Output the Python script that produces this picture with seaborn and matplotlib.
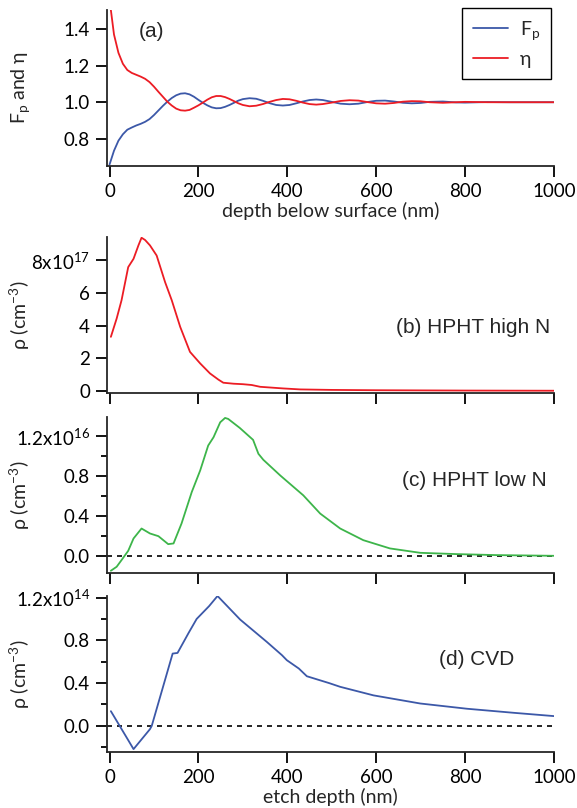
import matplotlib
matplotlib.use("Agg")
import matplotlib.pyplot as plt
import seaborn as sns

# (a) Fp and eta vs depth below surface
depth_a = [0, 10, 20, 30, 40, 50, 60, 70, 80, 90, 100, 110, 120, 130, 140, 150, 160, 170,
           180, 190, 200, 210, 220, 230, 240, 250, 260, 270, 280, 290, 300, 315, 330, 345,
           360, 375, 390, 405, 420, 435, 450, 465, 480, 500, 520, 540, 560, 580, 600, 620,
           640, 660, 680, 700, 720, 750, 780, 800, 850, 900, 1000]
fp = [0.66, 0.735, 0.79, 0.825, 0.85, 0.862, 0.873, 0.882, 0.893, 0.908, 0.93, 0.955, 0.98,
      1.003, 1.023, 1.038, 1.047, 1.049, 1.043, 1.03, 1.013, 0.997, 0.983, 0.972, 0.967,
      0.968, 0.975, 0.985, 0.997, 1.009, 1.017, 1.022, 1.019, 1.008, 0.995, 0.985, 0.982,
      0.985, 0.994, 1.004, 1.012, 1.015, 1.012, 1.002, 0.992, 0.989, 0.992, 1.001, 1.008,
      1.009, 1.004, 0.997, 0.994, 0.996, 1.002, 1.004, 0.999, 0.998, 1.001, 1.0, 1.0]
eta = [1.56, 1.37, 1.27, 1.21, 1.176, 1.16, 1.15, 1.14, 1.128, 1.11, 1.085, 1.057, 1.03,
       1.003, 0.982, 0.965, 0.956, 0.954, 0.958, 0.97, 0.983, 0.998, 1.014, 1.027, 1.034,
       1.034, 1.028, 1.018, 1.006, 0.994, 0.985, 0.978, 0.981, 0.99, 1.002, 1.012, 1.018,
       1.016, 1.008, 0.998, 0.99, 0.987, 0.99, 0.998, 1.007, 1.011, 1.009, 1.001, 0.994,
       0.992, 0.996, 1.003, 1.006, 1.005, 1.0, 0.997, 1.0, 1.002, 1.0, 1.0, 1.0]

# (b) HPHT high N, units of 1e17 cm^-3
depth_b = [3, 16, 27, 42, 54, 65, 72, 80, 91, 106, 125, 140, 159, 181, 204, 226, 245, 256,
           279, 300, 320, 339, 391, 429, 500, 600, 700, 800, 900, 1000]
rho_b = [3.32, 4.44, 5.56, 7.59, 8.1, 8.92, 9.39, 9.25, 8.92, 8.3, 6.67, 5.56, 3.93, 2.4,
         1.69, 1.08, 0.7, 0.51, 0.45, 0.42, 0.37, 0.26, 0.16, 0.1, 0.07, 0.05, 0.04, 0.03,
         0.025, 0.02]

# (c) HPHT low N, units of 1e16 cm^-3
depth_c = [3, 16, 27, 42, 54, 72, 91, 110, 132, 144, 162, 185, 204, 222, 234, 249, 260, 267,
           293, 323, 335, 346, 384, 436, 474, 519, 571, 631, 699, 781, 871, 1000]
rho_c = [-0.15, -0.11, -0.043, 0.05, 0.174, 0.274, 0.224, 0.197, 0.117, 0.124, 0.324, 0.64,
         0.857, 1.107, 1.19, 1.34, 1.384, 1.374, 1.284, 1.164, 1.024, 0.964, 0.807, 0.607,
         0.424, 0.274, 0.157, 0.074, 0.03, 0.017, 0.007, 0.0]

# (d) CVD, units of 1e14 cm^-3
depth_d = [3, 42, 54, 91, 95, 142, 153, 178, 196, 224, 243, 294, 354, 388, 399, 426, 444,
           494, 519, 594, 699, 804, 909, 1000]
rho_d = [0.137, -0.134, -0.218, -0.031, 0.0, 0.676, 0.682, 0.87, 1.0, 1.12, 1.215, 0.994,
         0.785, 0.661, 0.614, 0.536, 0.464, 0.40, 0.365, 0.285, 0.209, 0.16, 0.122, 0.091]

x_ticks = [0, 200, 400, 600, 800, 1000]

sns.set_style("ticks")
plt.rcParams['font.family'] = ['Lato', 'DejaVu Sans']
plt.rcParams['mathtext.default'] = 'regular'
plt.rcParams['axes.linewidth'] = 1.3
plt.rcParams['xtick.color'] = 'black'
plt.rcParams['ytick.color'] = 'black'

blue = "#3c58a8"
red = "#ec1c24"
green = "#3db54a"

fig = plt.figure(figsize=(5.77, 8.08), dpi=100)
left, width = 0.186, 0.774
ax_a = fig.add_axes([left, 0.7946, width, 0.1931])
ax_b = fig.add_axes([left, 0.5136, width, 0.1934])
ax_c = fig.add_axes([left, 0.2908, width, 0.1927])
ax_d = fig.add_axes([left, 0.0693, width, 0.1931])

sns.lineplot(x=depth_a, y=fp, ax=ax_a, color=blue, lw=1.3, label="F$_p$")
sns.lineplot(x=depth_a, y=eta, ax=ax_a, color=red, lw=1.3, label="η")
sns.lineplot(x=depth_b, y=rho_b, ax=ax_b, color=red, lw=1.3)
sns.lineplot(x=depth_c, y=rho_c, ax=ax_c, color=green, lw=1.3)
sns.lineplot(x=depth_d, y=rho_d, ax=ax_d, color=blue, lw=1.3)

for ax in (ax_c, ax_d):
    ax.axhline(0, color='black', lw=1.2, ls=(0, (3, 3)), zorder=1)

for ax in (ax_a, ax_b, ax_c, ax_d):
    sns.despine(ax=ax)
    ax.set_xlim(-5, 1000)
    ax.set_xticks(x_ticks)
    ax.tick_params(which='major', direction='out', length=8, width=1.3, labelsize=13.5,
                   pad=4.5)
    ax.tick_params(which='minor', direction='out', length=4.5, width=1.3)
    ax.set_ylabel("ρ (cm$^{-3}$)", fontsize=14)
    ax.yaxis.set_label_coords(-0.169, 0.5)

for ax in (ax_b, ax_c):
    ax.set_xticklabels([])

ax_a.set_ylim(0.652, 1.504)
ax_a.set_yticks([0.8, 1.0, 1.2, 1.4])
ax_a.set_yticklabels(["0.8", "1.0", "1.2", "1.4"])
ax_a.set_ylabel("F$_p$ and η", fontsize=14)
ax_a.yaxis.set_label_coords(-0.169, 0.5)
ax_a.set_xlabel("depth below surface (nm)", fontsize=14, labelpad=1)
ax_a.text(0.10, 0.865, "(a)", transform=ax_a.transAxes, fontsize=15,
          family='Liberation Sans', ha='center', va='center')
leg = ax_a.legend(loc='upper right', bbox_to_anchor=(0.993, 1.013), fontsize=14,
                  frameon=True, fancybox=False, edgecolor='black', framealpha=1,
                  handlelength=1.8, handletextpad=0.6, borderpad=0.55, labelspacing=0.5,
                  borderaxespad=0)
leg.get_frame().set_linewidth(1.0)

ax_b.set_ylim(-0.12, 9.45)
ax_b.set_yticks([0, 2, 4, 6, 8])
ax_b.set_yticklabels(["0", "2", "4", "6", "8x10$^{17}$"])
ax_b.text(0.819, 0.422, "(b) HPHT high N", transform=ax_b.transAxes, fontsize=15,
          family='Liberation Sans', ha='center', va='center')

ax_c.set_ylim(-0.173, 1.39)
ax_c.set_yticks([0, 0.4, 0.8, 1.2])
ax_c.set_yticks([0.2, 0.6, 1.0], minor=True)
ax_c.set_yticklabels(["0.0", "0.4", "0.8", "1.2x10$^{16}$"])
ax_c.text(0.823, 0.597, "(c) HPHT low N", transform=ax_c.transAxes, fontsize=15,
          family='Liberation Sans', ha='center', va='center')

ax_d.set_ylim(-0.245, 1.215)
ax_d.set_yticks([0, 0.4, 0.8, 1.2])
ax_d.set_yticks([-0.2, 0.2, 0.6, 1.0], minor=True)
ax_d.set_yticklabels(["0.0", "0.4", "0.8", "1.2x10$^{14}$"])
ax_d.set_xlabel("etch depth (nm)", fontsize=14, labelpad=1)
ax_d.text(0.826, 0.596, "(d) CVD", transform=ax_d.transAxes, fontsize=15,
          family='Liberation Sans', ha='center', va='center')

fig.savefig("out.png", dpi=100)
